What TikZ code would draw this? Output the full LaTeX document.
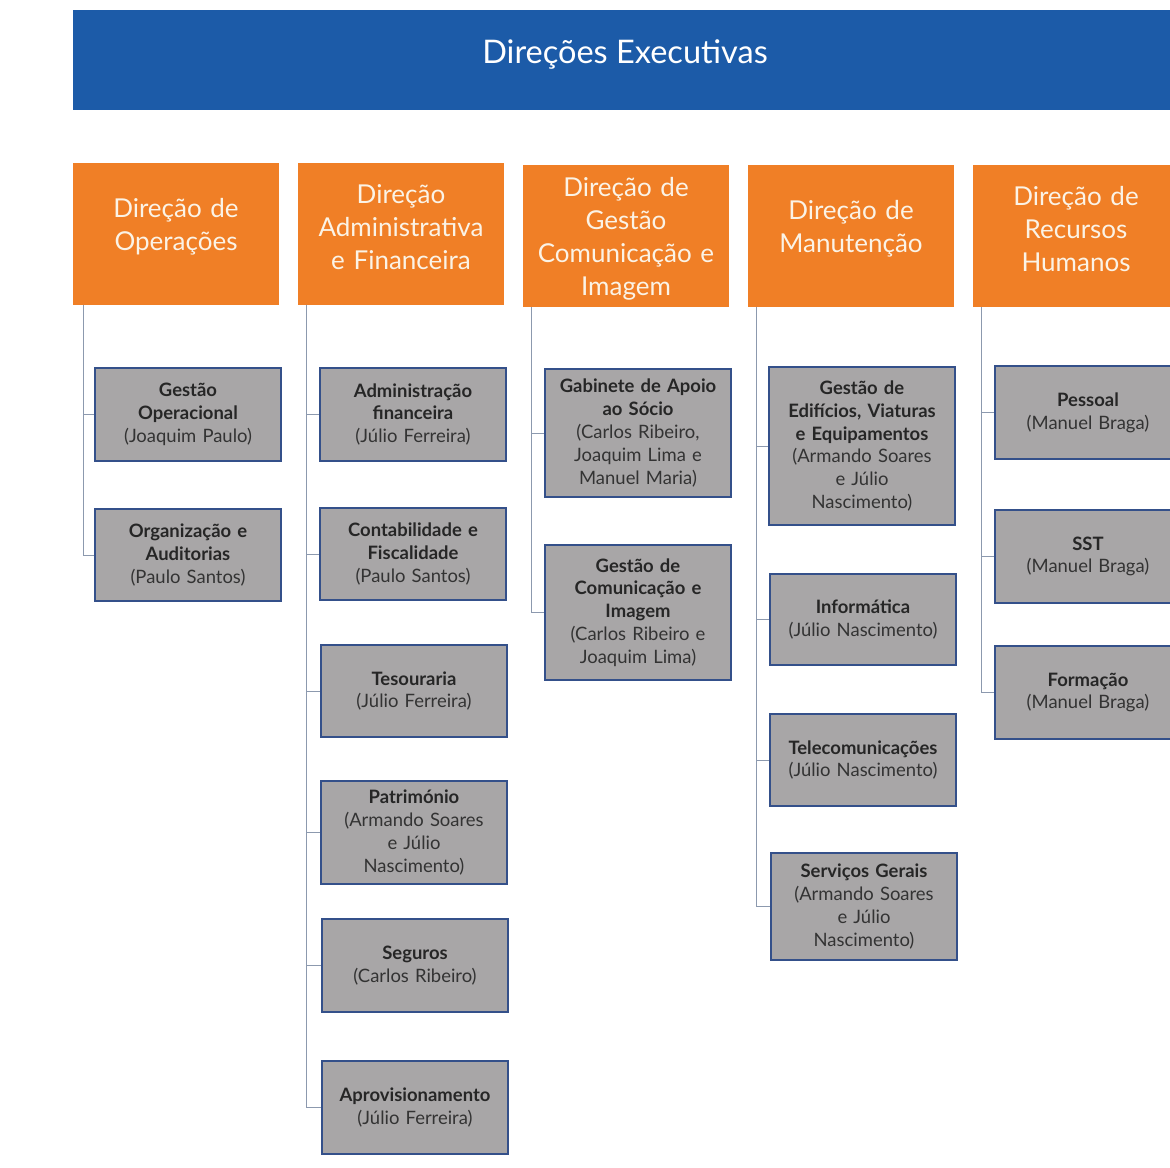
\documentclass[tikz,border=0pt]{standalone}
\usepackage{fontspec}
\setmainfont{Lato}
\usepackage{tikz}
\definecolor{faixa}{HTML}{1C5BA8}
\definecolor{laranja}{HTML}{F07F26}
\definecolor{cinza}{HTML}{A8A6A7}
\definecolor{borda}{HTML}{34508A}
\definecolor{linha}{HTML}{8C99AE}
\definecolor{creme}{HTML}{FBF3E6}
\definecolor{nomecor}{HTML}{333333}
\tikzset{
  header/.style={rectangle, fill=laranja, text=creme, align=center, text width=4cm, minimum width=4.12cm, minimum height=2.84cm, inner sep=0pt, font=\fontsize{14.8}{18.8}\selectfont, execute at end node={\par\vspace{8pt}}},
  gbox/.style={rectangle, draw=borda, line width=1pt, fill=cinza, text=black!85, align=center, text width=3.6cm, minimum width=3.72cm, inner sep=1pt, font=\fontsize{10.5}{13}\selectfont},
  conn/.style={draw=linha, line width=0.5pt}
}
\newcommand{\cargo}[2]{\textbf{#1}\\\textcolor{nomecor}{#2}}

\begin{document}
\begin{tikzpicture}[x=0.02cm, y=-0.02cm]
  \useasboundingbox (0,0) rectangle (1170,1168);
  \clip (0,0) rectangle (1170,1168);
  % faixa de titulo
  \fill[faixa] (73,10) rectangle (1190,110);
  \node[text=white, font=\fontsize{18.5}{21}\selectfont] (titulo) at (625,54) {Direções Executivas};

  % direcoes
  \node[header] (h1) at (176,234) {Direção de\\Operações};
  \node[header] (h2) at (401,234) {Direção\\Administrativa\\e Financeira};
  \node[header, execute at end node={\par\vspace{-11pt}}] (h3) at (626,236) {Direção de\\Gestão\\Comunicação e\\Imagem};
  \node[header] (h4) at (851,236) {Direção de\\Manutenção};
  \node[header] (h5) at (1076,236) {Direção de\\Recursos\\Humanos};

  % operacoes
  \node[gbox, minimum height=1.86cm] (g11) at (188,414.5) {\cargo{Gestão\\Operacional}{(Joaquim Paulo)}};
  \node[gbox, minimum height=1.84cm] (g12) at (188,555) {\cargo{Organização e\\Auditorias}{(Paulo Santos)}};

  % administrativa e financeira
  \node[gbox, minimum height=1.86cm] (g21) at (413,414.5) {\cargo{Administração\\financeira}{(Júlio Ferreira)}};
  \node[gbox, minimum height=1.84cm] (g22) at (413,554) {\cargo{Contabilidade e\\Fiscalidade}{(Paulo Santos)}};
  \node[gbox, minimum height=1.84cm] (g23) at (414,691) {\cargo{Tesouraria}{(Júlio Ferreira)}};
  \node[gbox, minimum height=2.06cm] (g24) at (414,832.5) {\cargo{Património}{(Armando Soares\\e Júlio\\Nascimento)}};
  \node[gbox, minimum height=1.86cm] (g25) at (415,965.5) {\cargo{Seguros}{(Carlos Ribeiro)}};
  \node[gbox, minimum height=1.86cm] (g26) at (415,1107.5) {\cargo{Aprovisionamento}{(Júlio Ferreira)}};

  % gestao comunicacao e imagem
  \node[gbox, minimum height=2.56cm] (g31) at (638,433) {\cargo{Gabinete de Apoio\\ao Sócio}{(Carlos Ribeiro,\\Joaquim Lima e\\Manuel Maria)}};
  \node[gbox, minimum height=2.70cm] (g32) at (638,612.5) {\cargo{Gestão de\\Comunicação e\\Imagem}{(Carlos Ribeiro e\\Joaquim Lima)}};

  % manutencao
  \node[gbox, minimum height=3.16cm] (g41) at (862,446) {\cargo{Gestão de\\Edifícios, Viaturas\\e Equipamentos}{(Armando Soares\\e Júlio\\Nascimento)}};
  \node[gbox, minimum height=1.82cm] (g42) at (863,619.5) {\cargo{Informática}{(Júlio Nascimento)}};
  \node[gbox, minimum height=1.84cm] (g43) at (863,760) {\cargo{Telecomunicações}{(Júlio Nascimento)}};
  \node[gbox, minimum height=2.14cm] (g44) at (864,906.5) {\cargo{Serviços Gerais}{(Armando Soares\\e Júlio\\Nascimento)}};

  % recursos humanos
  \node[gbox, minimum height=1.86cm] (g51) at (1088,412.5) {\cargo{Pessoal}{(Manuel Braga)}};
  \node[gbox, minimum height=1.86cm] (g52) at (1088,556.5) {\cargo{SST}{(Manuel Braga)}};
  \node[gbox, minimum height=1.86cm] (g53) at (1088,692.5) {\cargo{Formação}{(Manuel Braga)}};

  % ligacoes
  \coordinate (t1) at (83,305);
  \coordinate (t2) at (306,305);
  \coordinate (t3) at (531,307);
  \coordinate (t4) at (756,307);
  \coordinate (t5) at (981,307);
  \foreach \b in {g11,g12} \draw[conn] (t1) |- (\b.west);
  \foreach \b in {g21,g22,g23,g24,g25,g26} \draw[conn] (t2) |- (\b.west);
  \foreach \b in {g31,g32} \draw[conn] (t3) |- (\b.west);
  \foreach \b in {g41,g42,g43,g44} \draw[conn] (t4) |- (\b.west);
  \foreach \b in {g51,g52,g53} \draw[conn] (t5) |- (\b.west);
\end{tikzpicture}
\end{document}
